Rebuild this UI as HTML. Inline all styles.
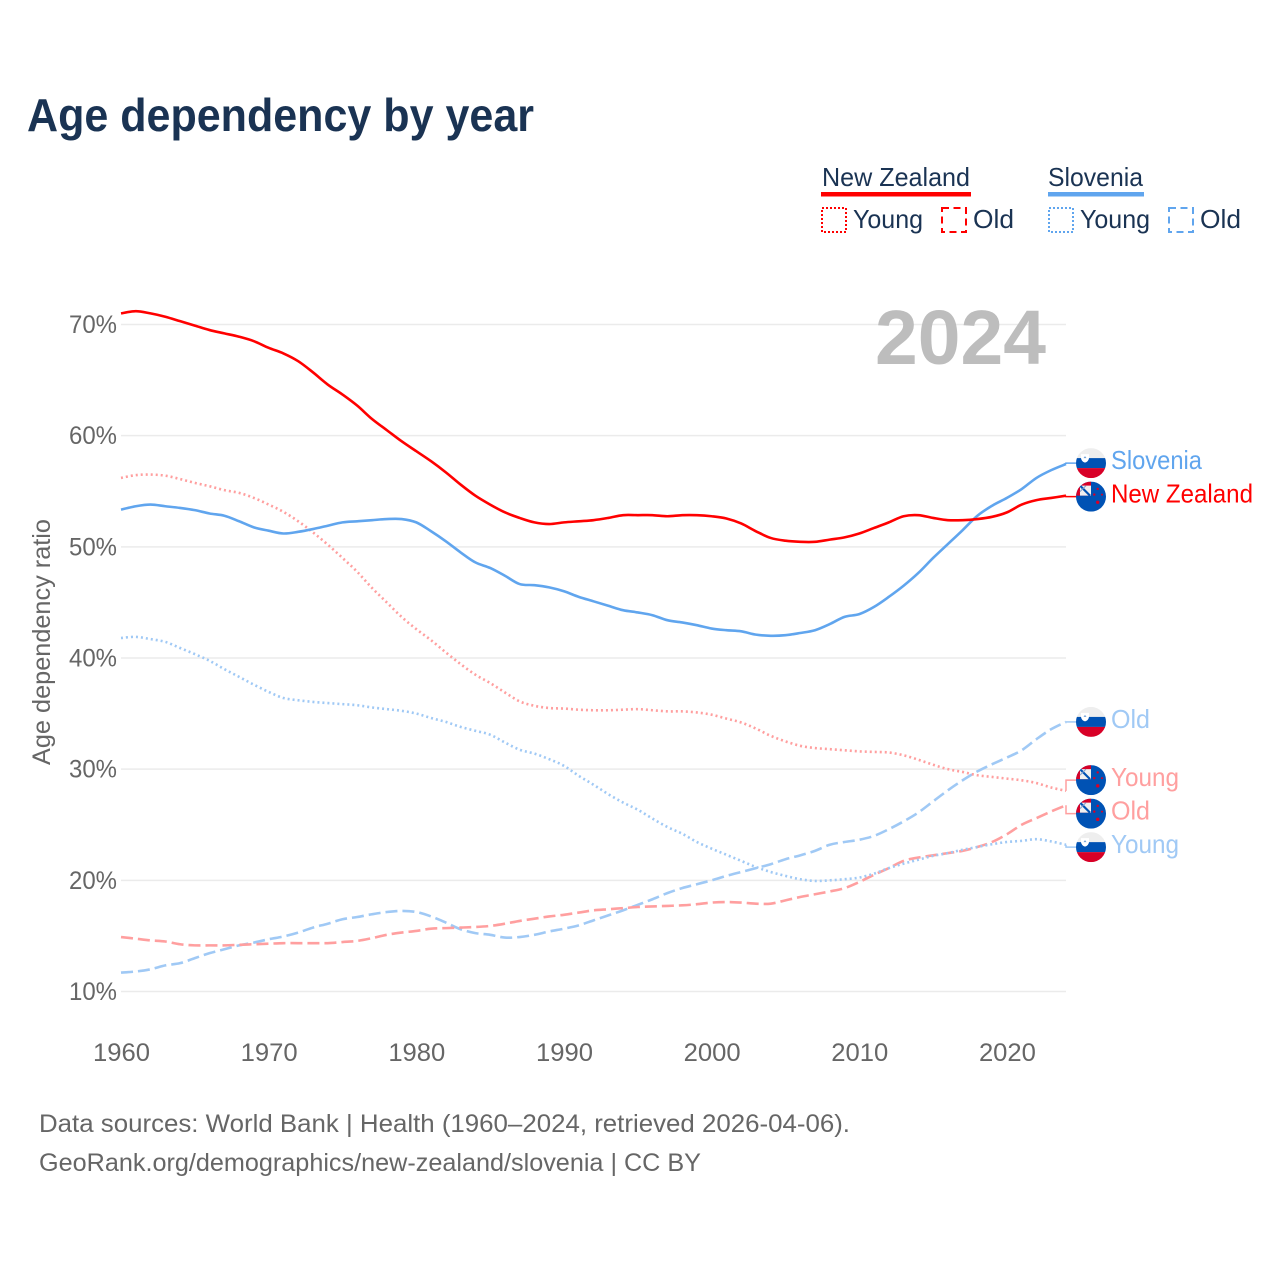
<!DOCTYPE html>
<html lang="en">
<head>
<meta charset="utf-8">
<title>Age dependency by year</title>
<style>
html,body{margin:0;padding:0;background:#fff;}
svg{display:block;font-family:"Liberation Sans",Arial,sans-serif;}
</style>
</head>
<body>
<svg id="chart" xmlns="http://www.w3.org/2000/svg" width="1280" height="1280" viewBox="0 0 1280 1280">
  <defs>
    <clipPath id="flag-clip"><circle cx="0" cy="0" r="15"></circle></clipPath>
    <g id="flag-si" clip-path="url(#flag-clip)">
      <rect x="-15" y="-15" width="30" height="30" fill="#eeeeee"></rect>
      <rect x="-15" y="-5" width="30" height="10" fill="#0052b4"></rect>
      <rect x="-15" y="5" width="30" height="10" fill="#d80027"></rect>
      <path d="M-10,-9 H-2 V-5 Q-2.5,-1.5 -6,-0.5 Q-9.5,-1.5 -10,-5 Z" fill="#ffffff"></path>
      <path d="M-7.5,-5 L-6,-7 L-4.5,-5 Z" fill="#6f9fd6"></path>
    </g>
    <g id="flag-nz" clip-path="url(#flag-clip)">
      <rect x="-15" y="-15" width="30" height="30" fill="#0052b4"></rect>
      <rect x="-15" y="-15" width="15" height="14" fill="#d80027"></rect>
      <rect x="-11" y="-11" width="11" height="10" fill="#f0f0f0"></rect>
      <path d="M-11,-11 L-1,-1" stroke="#0052b4" stroke-width="2.2"></path>
      <path d="M-5,-11 L-11,-5" stroke="#7f9fcc" stroke-width="1"></path>
      <circle cx="6.7" cy="-7.7" r="1.2" fill="#d80027"></circle>
      <circle cx="11" cy="-2" r="1" fill="#d80027"></circle>
      <circle cx="3.3" cy="-2" r="1.2" fill="#d80027"></circle>
      <circle cx="6.7" cy="5.7" r="1.7" fill="#d80027"></circle>
    </g>
  </defs>

  <rect x="0" y="0" width="1280" height="1280" fill="#ffffff"></rect>

  <text x="27" y="131" font-size="46" font-weight="700" fill="#1a3353" textLength="507" lengthAdjust="spacingAndGlyphs">Age dependency by year</text>

  <g fill="#1a3353" font-size="26">
    <text x="822" y="186" textLength="148" lengthAdjust="spacingAndGlyphs">New Zealand</text>
    <rect x="821" y="192" width="150" height="4.5" fill="#ff0000"></rect>
    <rect x="822" y="208" width="24" height="24" fill="none" stroke="#ff0000" stroke-width="2" stroke-dasharray="2 2"></rect>
    <text x="853" y="228" textLength="70" lengthAdjust="spacingAndGlyphs">Young</text>
    <rect x="942" y="208" width="24" height="24" fill="none" stroke="#ff0000" stroke-width="2" stroke-dasharray="7 4.5"></rect>
    <text x="973" y="228" textLength="41" lengthAdjust="spacingAndGlyphs">Old</text>
    <text x="1048" y="186" textLength="95" lengthAdjust="spacingAndGlyphs">Slovenia</text>
    <rect x="1048" y="192" width="96" height="4.5" fill="#60a5ee"></rect>
    <rect x="1049" y="208" width="24" height="24" fill="none" stroke="#60a5ee" stroke-width="2" stroke-dasharray="2 2"></rect>
    <text x="1080" y="228" textLength="70" lengthAdjust="spacingAndGlyphs">Young</text>
    <rect x="1169" y="208" width="24" height="24" fill="none" stroke="#60a5ee" stroke-width="2" stroke-dasharray="7 4.5"></rect>
    <text x="1200" y="228" textLength="41" lengthAdjust="spacingAndGlyphs">Old</text>
  </g>

  <g id="grid"></g>
  <g id="yticks"></g>
  <g id="xticks"></g>

  <text x="875" y="364" font-size="77" font-weight="700" fill="#bdbdbd" textLength="171" lengthAdjust="spacingAndGlyphs">2024</text>

  <text transform="translate(50,765) rotate(-90)" x="0" y="0" font-size="25" fill="#666666" textLength="246" lengthAdjust="spacingAndGlyphs">Age dependency ratio</text>

  <g id="series"></g>
  <g id="endlabels"></g>

  <text x="39" y="1132" font-size="25" fill="#666666" textLength="811" lengthAdjust="spacingAndGlyphs">Data sources: World Bank | Health (1960–2024, retrieved 2026-04-06).</text>
  <text x="39" y="1171" font-size="25" fill="#666666" textLength="662" lengthAdjust="spacingAndGlyphs">GeoRank.org/demographics/new-zealand/slovenia | CC BY</text>
</svg>

<script>
var firstYear = 1960;
var yTickValues = [10, 20, 30, 40, 50, 60, 70];
var xTickValues = [1960, 1970, 1980, 1990, 2000, 2010, 2020];

var nzTotal = [71.0,71.2,71.0,70.7,70.3,69.9,69.5,69.2,68.9,68.5,67.9,67.4,66.7,65.7,64.6,63.7,62.7,61.5,60.5,59.5,58.6,57.7,56.7,55.6,54.6,53.8,53.1,52.6,52.2,52.05,52.2,52.3,52.4,52.6,52.85,52.85,52.85,52.75,52.85,52.85,52.75,52.55,52.1,51.4,50.8,50.55,50.45,50.45,50.65,50.85,51.2,51.7,52.2,52.75,52.85,52.6,52.4,52.4,52.5,52.7,53.1,53.8,54.2,54.4,54.6];
var siTotal = [53.35,53.65,53.8,53.65,53.5,53.3,53.0,52.8,52.3,51.75,51.45,51.2,51.35,51.6,51.9,52.2,52.3,52.4,52.5,52.5,52.2,51.4,50.5,49.5,48.6,48.1,47.4,46.65,46.55,46.35,46.0,45.5,45.1,44.7,44.3,44.1,43.85,43.4,43.2,42.95,42.65,42.5,42.4,42.1,42.0,42.05,42.25,42.5,43.05,43.7,43.95,44.6,45.5,46.5,47.65,49.0,50.25,51.5,52.8,53.7,54.4,55.2,56.2,56.9,57.45];
var nzYoung = [56.2,56.45,56.5,56.4,56.1,55.75,55.45,55.1,54.85,54.4,53.8,53.15,52.3,51.3,50.2,49.0,47.75,46.3,45.0,43.7,42.6,41.6,40.5,39.45,38.5,37.75,36.9,36.1,35.7,35.5,35.45,35.35,35.3,35.3,35.35,35.4,35.3,35.2,35.2,35.1,34.9,34.55,34.2,33.65,33.0,32.5,32.1,31.9,31.8,31.7,31.6,31.55,31.5,31.25,30.85,30.4,30.0,29.75,29.45,29.3,29.15,29.0,28.75,28.35,28.05];
var nzOld = [14.9,14.75,14.6,14.5,14.25,14.15,14.15,14.15,14.2,14.25,14.3,14.35,14.35,14.35,14.35,14.45,14.55,14.8,15.1,15.3,15.45,15.65,15.7,15.75,15.8,15.9,16.1,16.35,16.55,16.75,16.9,17.1,17.3,17.4,17.5,17.6,17.65,17.7,17.75,17.85,18.0,18.05,18.0,17.9,17.9,18.2,18.5,18.75,19.0,19.3,19.85,20.5,21.1,21.75,22.05,22.25,22.45,22.65,23.0,23.45,24.15,25.0,25.6,26.2,26.75];
var siYoung = [41.8,41.9,41.7,41.45,40.9,40.35,39.75,39.0,38.3,37.6,36.95,36.4,36.2,36.05,35.95,35.85,35.75,35.55,35.4,35.25,35.0,34.6,34.25,33.8,33.45,33.1,32.4,31.75,31.4,30.9,30.3,29.4,28.6,27.75,27.0,26.35,25.55,24.8,24.2,23.45,22.85,22.3,21.75,21.2,20.75,20.4,20.1,19.95,20.0,20.1,20.25,20.6,21.1,21.5,21.85,22.2,22.45,22.75,23.0,23.25,23.45,23.55,23.7,23.5,23.2];
var siOld = [11.7,11.8,12.0,12.35,12.55,13.0,13.45,13.8,14.15,14.4,14.7,14.95,15.3,15.75,16.1,16.5,16.7,16.95,17.15,17.25,17.15,16.75,16.2,15.6,15.25,15.1,14.85,14.9,15.1,15.4,15.65,15.95,16.4,16.85,17.3,17.8,18.3,18.85,19.3,19.65,20.0,20.4,20.75,21.1,21.45,21.9,22.25,22.65,23.2,23.45,23.65,24.0,24.6,25.3,26.1,27.1,28.1,29.0,29.8,30.45,31.05,31.7,32.7,33.6,34.25];

function xScale(year) { return 121 + (year - 1960) * (1066 - 121) / 64; }
function yScale(v) { return 991.5 - (v - 10) * (991.5 - 324.5) / 60; }

var NS = 'http://www.w3.org/2000/svg';
function make(tag, attrs, parent, text) {
  var n = document.createElementNS(NS, tag);
  for (var k in attrs) n.setAttribute(k, attrs[k]);
  if (text !== undefined) n.textContent = text;
  parent.appendChild(n);
  return n;
}

// Smooth path through the year points (Catmull-Rom to cubic Bezier)
function smoothPath(values) {
  var pts = values.map(function (v, i) { return [xScale(firstYear + i), yScale(v)]; });
  var d = 'M' + pts[0][0].toFixed(2) + ',' + pts[0][1].toFixed(2);
  for (var i = 0; i < pts.length - 1; i++) {
    var p0 = pts[Math.max(i - 1, 0)], p1 = pts[i], p2 = pts[i + 1], p3 = pts[Math.min(i + 2, pts.length - 1)];
    var c1x = p1[0] + (p2[0] - p0[0]) / 6, c1y = p1[1] + (p2[1] - p0[1]) / 6;
    var c2x = p2[0] - (p3[0] - p1[0]) / 6, c2y = p2[1] - (p3[1] - p1[1]) / 6;
    d += ' C' + c1x.toFixed(2) + ',' + c1y.toFixed(2) + ' ' + c2x.toFixed(2) + ',' + c2y.toFixed(2) + ' ' + p2[0].toFixed(2) + ',' + p2[1].toFixed(2);
  }
  return d;
}

var gridG = document.getElementById('grid');
var yG = document.getElementById('yticks');
var xG = document.getElementById('xticks');
var seriesG = document.getElementById('series');
var labelsG = document.getElementById('endlabels');

yTickValues.forEach(function (v) {
  var line = make('line', {x1: 121, x2: 1066, y1: yScale(v), y2: yScale(v), stroke: '#ebebeb', 'stroke-width': 1.5}, gridG);
  
  
  var t = make('text', {x: 69, y: yScale(v) + 8.5, 'font-size': 25, fill: '#666666', textLength: v < 10 ? 36 : 48, lengthAdjust: 'spacingAndGlyphs'}, yG, v + '%');
  
  
});

xTickValues.forEach(function (y) {
  var t = make('text', {x: xScale(y) - 28, y: 1061, 'font-size': 25, fill: '#666666', textLength: 57, lengthAdjust: 'spacingAndGlyphs'}, xG, String(y));
  
  
});

var seriesDefs = [
  {id: 'si-old', values: siOld, color: '#a0c9f5', dash: '12 5', flag: 'flag-si', label: 'Old', w: 39},
  {id: 'nz-old', values: nzOld, color: '#ff9f9f', dash: '12 5', flag: 'flag-nz', label: 'Old', w: 39},
  {id: 'si-young', values: siYoung, color: '#a0c9f5', dash: '2 3', flag: 'flag-si', label: 'Young', w: 68},
  {id: 'nz-young', values: nzYoung, color: '#ff9f9f', dash: '2 3', flag: 'flag-nz', label: 'Young', w: 68},
  {id: 'si-total', values: siTotal, color: '#60a5ee', dash: '', flag: 'flag-si', label: 'Slovenia', w: 91},
  {id: 'nz-total', values: nzTotal, color: '#ff0000', dash: '', flag: 'flag-nz', label: 'New Zealand', w: 142}
];

seriesDefs.forEach(function (s) {
  var attrs = {d: smoothPath(s.values), fill: 'none', stroke: s.color, 'stroke-width': 2.6, 'stroke-linejoin': 'round'};
  if (s.dash) attrs['stroke-dasharray'] = s.dash;
  var p = make('path', attrs, seriesG);
  
  
  s.endY = yScale(s.values[s.values.length - 1]);
  s.endX = xScale(firstYear + s.values.length - 1);
});

// End-label layout: merge colliding labels into evenly spaced clusters around their mean
var labelGap = 33.5;
var clusters = seriesDefs.slice().sort(function (a, b) { return a.endY - b.endY; }).map(function (s) {
  return {items: [s], center: s.endY};
});
var merged = true;
while (merged) {
  merged = false;
  for (var i = 0; i < clusters.length - 1; i++) {
    var a = clusters[i], b = clusters[i + 1];
    var aBottom = a.center + (a.items.length - 1) * labelGap / 2;
    var bTop = b.center - (b.items.length - 1) * labelGap / 2;
    if (bTop - aBottom < labelGap) {
      var items = a.items.concat(b.items);
      var sum = 0;
      items.forEach(function (s) { sum += s.endY; });
      clusters.splice(i, 2, {items: items, center: sum / items.length});
      merged = true;
      break;
    }
  }
}
clusters.forEach(function (c) {
  c.items.forEach(function (s, i) {
    s.labelY = c.center + (i - (c.items.length - 1) / 2) * labelGap;
  });
});

seriesDefs.forEach(function (s) {
  var connAttrs = {d: 'M' + s.endX + ',' + s.endY + ' V' + s.labelY + ' H1077', fill: 'none', stroke: s.color, 'stroke-width': 1.5};
  var conn = make('path', connAttrs, labelsG);
  
  
  var flag = make('use', {href: '#' + s.flag, transform: 'translate(1091,' + s.labelY + ')'}, labelsG);
  
  
  var t = make('text', {x: 1111, y: s.labelY + 6, 'font-size': 26, fill: s.color, textLength: s.w, lengthAdjust: 'spacingAndGlyphs'}, labelsG, s.label);
  
  
});
</script>
</body>
</html>
